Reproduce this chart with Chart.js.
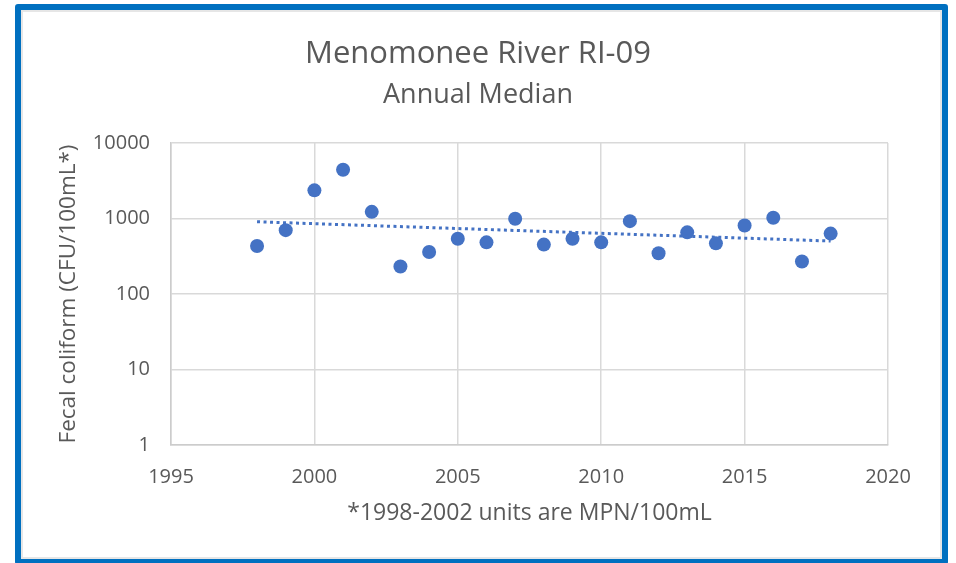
<!DOCTYPE html>
<html>
<head>
<meta charset="utf-8">
<title>Menomonee River RI-09</title>
<script src="https://cdn.jsdelivr.net/npm/chart.js@4.4.1/dist/chart.umd.min.js"></script>
<style>
  html, body { margin: 0; padding: 0; background: #fff; }
  #wrap { position: relative; width: 956px; height: 563px; overflow: hidden; }
  #frame {
    position: absolute; left: 15px; top: 4px; width: 921px; height: 549px;
    border: 6px solid #0070C0; border-radius: 3px;
    box-shadow: inset 0 0 0 2px #e6e6e6; pointer-events: none;
  }
  canvas { position: absolute; left: 0; top: 0; }
</style>
</head>
<body>
<div id="wrap">
  <canvas id="chart" width="956" height="563"></canvas>
  <div id="frame"></div>
</div>
<script>
const years = [1998, 1999, 2000, 2001, 2002, 2003, 2004, 2005, 2006, 2007, 2008,
               2009, 2010, 2011, 2012, 2013, 2014, 2015, 2016, 2017, 2018];
const medians = [432, 701, 2360, 4415, 1225, 231, 360, 540, 483, 991, 451,
                 540, 483, 922, 346, 655, 469, 809, 1021, 269, 631];

// dotted trendline at its two ends
const trendYears = [1998, 2018];
const trendValues = [905, 503];

const xTicks = [1995, 2000, 2005, 2010, 2015, 2020];
const yTicks = [1, 10, 100, 1000, 10000];

const textColor = '#595959';
const gridColor = '#d9d9d9';
const font = 'Open Sans';

new Chart(document.getElementById('chart'), {
  type: 'scatter',
  data: {
    datasets: [
      {
        label: 'Annual median',
        data: years.map((y, i) => ({ x: y, y: medians[i] })),
        backgroundColor: '#4472C4',
        borderWidth: 0,
        pointRadius: 7,
        order: 2
      },
      {
        label: 'Trend',
        data: trendYears.map((y, i) => ({ x: y, y: trendValues[i] })),
        showLine: true,
        borderColor: '#4472C4',
        borderWidth: 3,
        borderDash: [3, 3.5],
        pointRadius: 0,
        fill: false,
        order: 1
      }
    ]
  },
  options: {
    responsive: false,
    animation: false,
    layout: { padding: 0 },
    plugins: {
      legend: { display: false },
      tooltip: { enabled: false },
      title: {
        display: true,
        text: 'Menomonee River RI-09',
        color: textColor,
        font: { family: font, size: 31, weight: 'normal' },
        padding: { top: 35.5, bottom: 0 }
      },
      subtitle: {
        display: true,
        text: 'Annual Median',
        color: textColor,
        font: { family: font, size: 27, weight: 'normal' },
        padding: { top: 6.5, bottom: 31.4 }
      }
    },
    scales: {
      x: {
        type: 'linear',
        min: 1995,
        max: 2020,
        afterBuildTicks: (s) => { s.ticks = xTicks.map(v => ({ value: v })); },
        afterFit: (s) => { s.height = 118; },
        grid: { color: gridColor, lineWidth: 1.5, drawTicks: false },
        border: { color: '#cccccc', width: 1.5 },
        ticks: {
          padding: 20,
          color: textColor,
          font: { family: font, size: 20 },
          callback: (v) => String(v)
        },
        title: {
          display: true,
          text: '*1998-2002 units are MPN/100mL',
          color: textColor,
          font: { family: font, size: 23 },
          padding: { top: 0, bottom: 36.2 }
        }
      },
      y: {
        type: 'logarithmic',
        min: 1,
        max: 10000,
        afterBuildTicks: (s) => { s.ticks = yTicks.map(v => ({ value: v })); },
        afterFit: (s) => { s.width = 171; },
        grid: { color: gridColor, lineWidth: 1.5, drawTicks: false },
        border: { color: '#cccccc', width: 1.5 },
        ticks: {
          padding: 21,
          color: textColor,
          font: { family: font, size: 20 },
          callback: (v) => String(v)
        },
        title: {
          display: true,
          text: 'Fecal coliform (CFU/100mL*)',
          color: textColor,
          font: { family: font, size: 22.5 },
          padding: { top: 55.5, bottom: 0 }
        }
      },
      // empty right-hand axis, only reserves the gap right of the plot
      yRight: {
        position: 'right',
        afterFit: (s) => { s.width = 68; },
        grid: { display: false },
        border: { display: false },
        ticks: { display: false }
      }
    }
  }
});
</script>
</body>
</html>
